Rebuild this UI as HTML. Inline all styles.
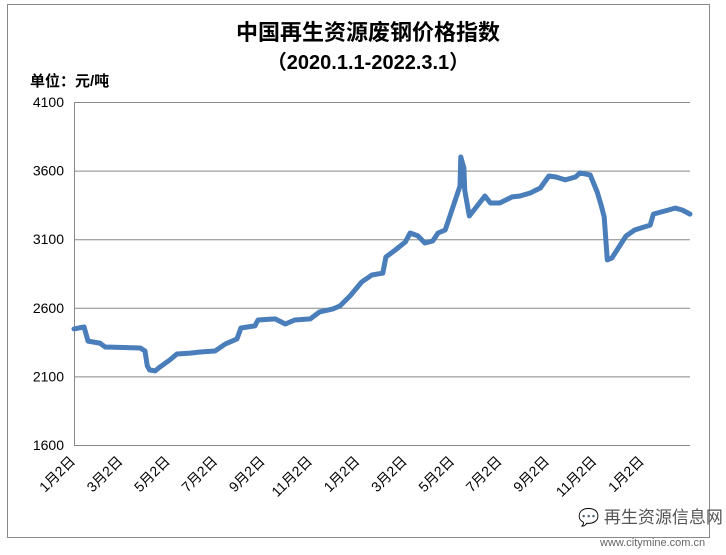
<!DOCTYPE html>
<html><head><meta charset="utf-8"><style>
body{margin:0;background:#fff;}
svg text{font-family:"Liberation Sans","Noto Sans CJK SC",sans-serif;}
</style></head><body>
<svg width="726" height="550">
<rect x="7.5" y="4.5" width="702" height="533" fill="#fff" stroke="#888"/>
<text x="368" y="40" text-anchor="middle" font-size="22" font-weight="bold" font-family="'Noto Serif CJK SC','Noto Sans CJK SC',sans-serif">中国再生资源废钢价格指数</text>
<text x="368" y="69" text-anchor="middle" font-size="20" font-weight="bold">（2020.1.1-2022.3.1）</text>
<text x="30" y="86" font-size="15" font-weight="bold">单位：元/吨</text>
<g id="grid"></g><g id="yt"></g><g id="xt"></g>
<path id="line" fill="none" stroke="#4a7ebb" stroke-width="5" stroke-linejoin="round" stroke-linecap="round"/>
<text x="578" y="523" font-size="17" fill="#555">💬 再生资源信息网</text>
<text x="600" y="546" font-size="11" fill="#666">www.citymine.com.cn</text>
</svg>
<script>
const days=[0,13,18,33,40,85,91,94,97,104,110,123,132,149,162,181,194,209,214,232,236,258,271,283,303,315,332,341,354,369,382,396,400,412,425,431,441,450,460,467,476,495,496,500,501,507,518,527,534,546,562,572,585,598,609,618,630,643,649,662,671,676,680,684,690,698,708,719,739,743,771,780,790];
const prices=[2446,2460,2357,2343,2314,2307,2285,2176,2147,2140,2168,2220,2263,2270,2278,2285,2336,2373,2453,2468,2511,2519,2482,2511,2519,2570,2592,2613,2686,2788,2839,2853,2970,3021,3080,3145,3124,3072,3087,3145,3167,3488,3699,3619,3459,3269,3349,3415,3364,3364,3408,3415,3437,3473,3561,3553,3532,3553,3583,3568,3444,3349,3262,2949,2964,3036,3124,3167,3203,3283,3327,3313,3283];
const yTicks=[1600,2100,2600,3100,3600,4100];
const xLabels=["1月2日","3月2日","5月2日","7月2日","9月2日","11月2日","1月2日","3月2日","5月2日","7月2日","9月2日","11月2日","1月2日"];
const X0=74,X1=690,Y0=445,Y1=102,DMAX=790,VMIN=1600,VMAX=4100;
const xs=d=>X0+d*(X1-X0)/DMAX;
const ys=v=>Y0-(v-VMIN)*(Y0-Y1)/(VMAX-VMIN);
const NS="http://www.w3.org/2000/svg";
const grid=document.getElementById('grid'),yt=document.getElementById('yt'),xt=document.getElementById('xt');
yTicks.forEach(v=>{
 const l=document.createElementNS(NS,'line');
 l.setAttribute('x1',X0);l.setAttribute('x2',X1);l.setAttribute('y1',ys(v)+.5);l.setAttribute('y2',ys(v)+.5);
 l.setAttribute('stroke','#888');
 
 
 grid.appendChild(l);
 const t=document.createElementNS(NS,'text');
 t.setAttribute('x',X0-10);t.setAttribute('y',ys(v)+5);t.setAttribute('text-anchor','end');t.setAttribute('font-size','14');
 t.textContent=v;
 
 
 yt.appendChild(t);
});
const ax=document.createElementNS(NS,'line');
ax.setAttribute('x1',X0+.5);ax.setAttribute('x2',X0+.5);ax.setAttribute('y1',Y1);ax.setAttribute('y2',Y0);ax.setAttribute('stroke','#888');


grid.appendChild(ax);
const step=(X1-X0)/xLabels.length;
xLabels.forEach((s,i)=>{
 const t=document.createElementNS(NS,'text');
 const x=X0+2+i*47.4,y=462;
 t.setAttribute('x',x);t.setAttribute('y',y);t.setAttribute('text-anchor','end');t.setAttribute('font-size','14');
 t.setAttribute('transform','rotate(-45 '+x+' '+y+')');
 t.textContent=s;
 
 
 xt.appendChild(t);
});
document.getElementById('line').setAttribute('d',days.map((d,i)=>(i?'L':'M')+xs(d).toFixed(1)+' '+ys(prices[i]).toFixed(1)).join(' '));
</script>
</body></html>
